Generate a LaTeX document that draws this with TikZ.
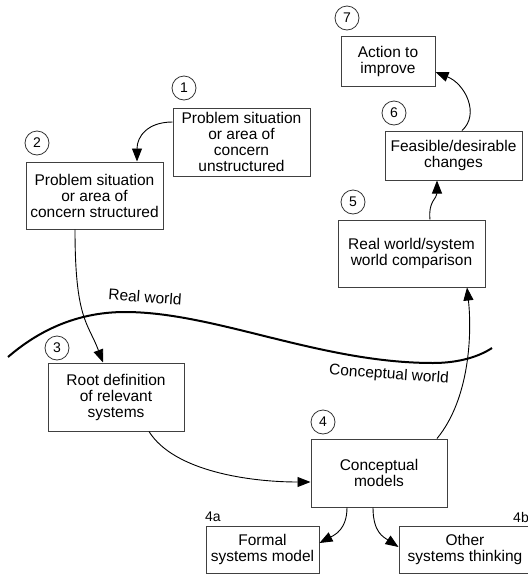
\documentclass[tikz,border=0pt]{standalone}
\usepackage{fontspec}
\setmainfont{Liberation Sans}
\usepackage{tikz}
\usetikzlibrary{arrows.meta}

\begin{document}
\begin{tikzpicture}[x=1pt,y=-1pt,>={Triangle[length=13pt,width=10pt]},
    box/.style={draw=black!75,line width=1pt,align=center,inner sep=0pt,
      font=\fontsize{15.5}{16}\selectfont},
    num/.style={circle,draw=black!80,line width=0.8pt,minimum size=24pt,inner sep=0pt,
      font=\fontsize{14}{14}\selectfont},
    tag/.style={inner sep=0pt,font=\fontsize{14}{14}\selectfont},
    world/.style={inner sep=0pt,rotate=-4,font=\fontsize{15.5}{16}\selectfont},
    link/.style={->,line width=0.9pt}]
  \useasboundingbox (0,0) rectangle (528,574);
  \clip (0,0) rectangle (528,574);
  \node[box,minimum width=137pt,minimum height=68pt] (s1) at (241.5,142) {Problem situation\\or area of\\concern\\unstructured};
  \node[box,minimum width=137pt,minimum height=67pt] (s2) at (94.5,195.5) {Problem situation\\or area of\\concern structured};
  \node[box,minimum width=136pt,minimum height=68pt] (s3) at (116,397) {Root definition\\of relevant\\systems};
  \node[box,minimum width=136pt,minimum height=68pt] (s4) at (379,473) {Conceptual\\models};
  \node[box,minimum width=147pt,minimum height=67pt] (s5) at (411.5,253.5) {Real world/system\\world comparison};
  \node[box,minimum width=137pt,minimum height=49pt] (s6) at (453.5,155.5) {Feasible/desirable\\changes};
  \node[box,minimum width=94pt,minimum height=50pt] (s7) at (388,61) {Action to\\improve};
  \node[box,minimum width=113pt,minimum height=47pt] (s4a) at (262.5,549.5) {Formal\\systems model};
  \node[box,minimum width=132pt,minimum height=47pt] (s4b) at (465,549.5) {Other\\systems thinking};

  \node[num] (n1) at (184,88) {1};
  \node[num] (n2) at (37,143) {2};
  \node[num] (n3) at (57,348) {3};
  \node[num] (n4) at (323,422) {4};
  \node[num] (n5) at (353,202) {5};
  \node[num] (n6) at (394,113) {6};
  \node[num] (n7) at (347,18) {7};
  \node[tag] (t4a) at (213,517) {4a};
  \node[tag] (t4b) at (521,517) {4b};

  \draw[line width=2pt] (8,357) .. controls (45,325) and (85,312) .. (125,312)
    .. controls (215,312) and (320,363) .. (433,363)
    .. controls (460,363) and (480,356) .. (492,348);
  \node[world] (real) at (145,297) {Real world};
  \node[world] (concept) at (389,375) {Conceptual world};

  \draw[link] ([yshift=20pt]s1.west) .. controls +(-25,0) and +(0,-25) .. ([xshift=42.5pt]s2.north);
  \draw[link] ([xshift=-19.5pt]s2.south) .. controls +(0,90) and +(-15,-40) .. ([xshift=-13pt]s3.north);
  \draw[link] ([xshift=33pt]s3.south) .. controls +(25,40) and +(-60,0) .. ([yshift=-9pt]s4.west);
  \draw[link] ([xshift=58pt]s4.north) .. controls +(33,-40) and +(5,45) .. ([xshift=55.5pt]s5.south);
  \draw[link] ([xshift=18.5pt]s5.north) .. controls +(-2,-18) and +(0,18) .. ([xshift=-16.5pt]s6.south);
  \draw[link] ([xshift=8.5pt]s6.north) .. controls +(18,-16) and +(30,12) .. ([yshift=-11pt]s7.east);
  \draw[link] ([xshift=-32pt]s4.south) .. controls +(0,22) and +(15,-8) .. ([yshift=6.5pt]s4a.east);
  \draw[link] ([xshift=-6pt]s4.south) .. controls +(0,25) and +(-15,-10) .. ([yshift=2.5pt]s4b.west);
\end{tikzpicture}
\end{document}
